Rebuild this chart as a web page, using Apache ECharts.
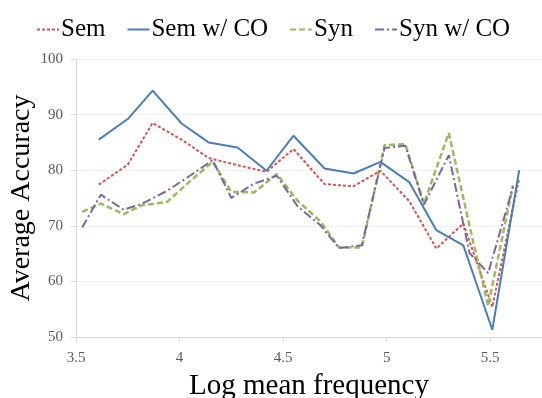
<!DOCTYPE html>
<html>
<head>
<meta charset="utf-8">
<script src="https://cdn.jsdelivr.net/npm/echarts@6/dist/echarts.min.js"></script>
<style>
  html, body { margin: 0; padding: 0; background: #fff; }
  #chart { width: 542px; height: 398px; }
</style>
</head>
<body>
<div id="chart"></div>
<script>
// log mean frequency positions
const semX = [3.61, 3.75, 3.87, 4.01, 4.14, 4.28, 4.42, 4.55, 4.70, 4.84, 4.97, 5.11, 5.24, 5.37, 5.51, 5.64];
const semVals = [77.4, 81.0, 88.5, 85.5, 82.2, 80.9, 79.7, 83.8, 77.5, 77.1, 79.9, 74.4, 65.9, 70.4, 55.4, 78.6];
const semCoVals = [85.5, 89.2, 94.3, 88.4, 85.0, 84.1, 79.9, 86.2, 80.3, 79.4, 81.5, 77.8, 69.2, 66.5, 51.3, 80.0];

const synX = [3.53, 3.62, 3.73, 3.82, 3.94, 4.05, 4.16, 4.25, 4.36, 4.47, 4.57, 4.68, 4.77, 4.88, 4.99, 5.09, 5.18, 5.30, 5.40, 5.49, 5.61];
const synVals = [72.5, 74.0, 72.1, 73.7, 74.3, 78.0, 81.5, 76.1, 76.0, 79.3, 74.5, 70.8, 66.1, 66.1, 84.5, 84.7, 74.0, 86.7, 70.0, 55.6, 77.3];
const synCoVals = [69.7, 75.6, 72.9, 74.0, 76.3, 79.0, 81.8, 75.0, 77.6, 79.0, 73.5, 70.1, 66.0, 66.5, 84.0, 84.4, 73.8, 82.7, 65.1, 61.5, 77.0];

const seriesNames = ['Sem', 'Sem w/ CO', 'Syn', 'Syn w/ CO'];

const pairs = (xs, ys) => xs.map((x, i) => [x, ys[i]]);
const serif = 'Liberation Serif';

const chart = echarts.init(document.getElementById('chart'));
chart.setOption({
  animation: false,
  grid: { left: 76, right: 0, top: 59, bottom: 61, outerBoundsMode: 'none', containLabel: false },
  legend: {
    top: 12,
    left: 31,
    itemWidth: 22,
    itemHeight: 14,
    itemGap: 21,
    itemStyle: { opacity: 0 },
    textStyle: { fontFamily: serif, fontSize: 25, color: '#000', padding: [0, 0, 0, -3] },
    data: seriesNames,
  },
  xAxis: {
    type: 'value',
    min: 3.5,
    max: 5.75,
    interval: 0.5,
    name: 'Log mean frequency',
    nameLocation: 'middle',
    nameGap: 35,
    nameMoveOverlap: false,
    nameTextStyle: { fontFamily: serif, fontSize: 29, color: '#000' },
    axisLine: { lineStyle: { color: '#d9d9d9', width: 1 } },
    axisTick: { show: true, length: 5, lineStyle: { color: '#d9d9d9' } },
    axisLabel: { fontFamily: serif, fontSize: 15, color: '#595959', margin: 14, showMaxLabel: false },
    splitLine: { show: false },
  },
  yAxis: {
    type: 'value',
    min: 50,
    max: 100,
    interval: 10,
    name: 'Average Accuracy',
    nameLocation: 'middle',
    nameGap: 40,
    nameMoveOverlap: false,
    nameTextStyle: { fontFamily: serif, fontSize: 28, color: '#000' },
    axisLine: { show: true, lineStyle: { color: '#d9d9d9', width: 1 } },
    axisTick: { show: true, length: 5, lineStyle: { color: '#d9d9d9' } },
    axisLabel: { fontFamily: serif, fontSize: 15, color: '#595959', margin: 13 },
    splitLine: { lineStyle: { color: '#f0f0f0', width: 1 } },
  },
  series: [
    {
      name: 'Sem',
      type: 'line',
      symbol: 'none',
      data: pairs(semX, semVals),
      lineStyle: { color: '#d9534f', width: 2, type: [3, 2] },
      itemStyle: { color: '#d9534f' },
    },
    {
      name: 'Sem w/ CO',
      type: 'line',
      symbol: 'none',
      data: pairs(semX, semCoVals),
      lineStyle: { color: '#4a7ebb', width: 2 },
      itemStyle: { color: '#4a7ebb' },
    },
    {
      name: 'Syn',
      type: 'line',
      symbol: 'none',
      data: pairs(synX, synVals),
      lineStyle: { color: '#9bbb59', width: 2.5, type: [6, 3] },
      itemStyle: { color: '#9bbb59' },
    },
    {
      name: 'Syn w/ CO',
      type: 'line',
      symbol: 'none',
      data: pairs(synX, synCoVals),
      lineStyle: { color: '#8064a2', width: 2, type: [9, 3, 2, 3] },
      itemStyle: { color: '#8064a2' },
    },
  ],
});
</script>
</body>
</html>
